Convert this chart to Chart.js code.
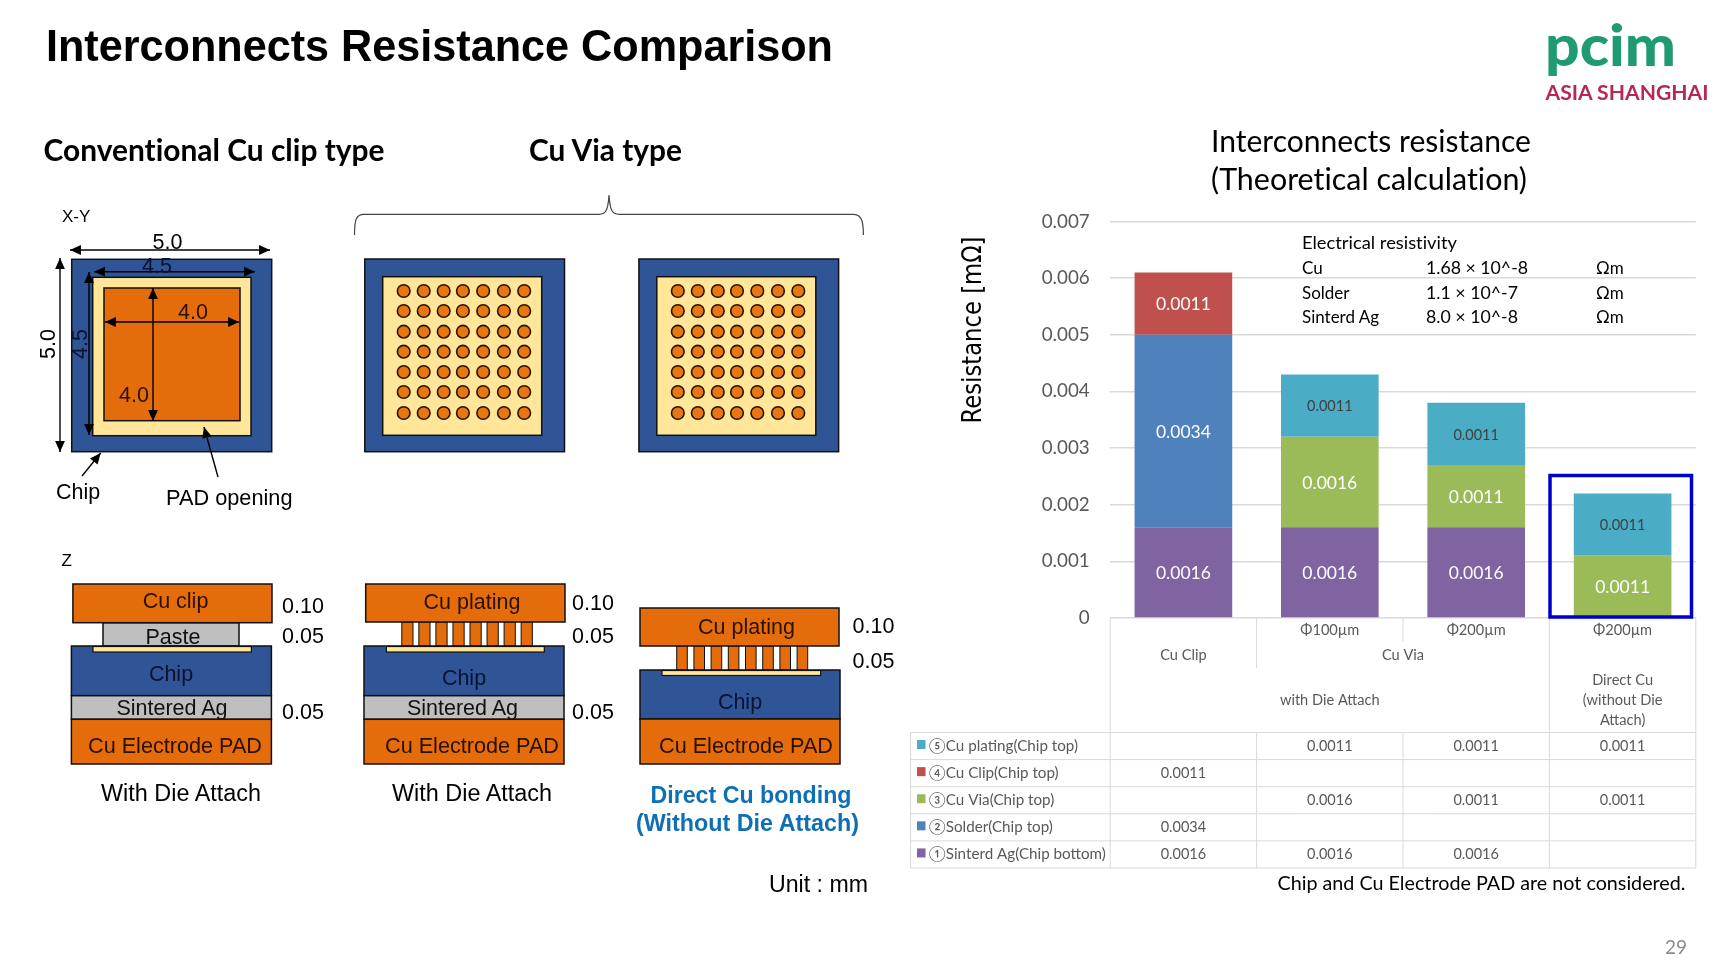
<!DOCTYPE html>
<html>
<head>
<meta charset="utf-8">
<title>Interconnects Resistance Comparison</title>
<script src="https://cdn.jsdelivr.net/npm/chart.js@4/dist/chart.umd.min.js"></script>
<style>
    html, body { margin: 0; padding: 0; background: #fff; overflow: hidden; }
    #slide { position: relative; width: 1728px; height: 972px; }
    #resChart, #art { position: absolute; left: 0; top: 0; }
    #art text { font-variant-ligatures: none; }
</style>
</head>
<body>
<div id="slide">
    <canvas id="resChart" width="1728" height="972"></canvas>
    <svg id="art" width="1728" height="972" xmlns="http://www.w3.org/2000/svg"></svg>
</div>
<script>
var categories  = ['Cu Clip', 'Φ100µm', 'Φ200µm', 'Φ200µm'];
var sinterAg    = [0.0016, 0.0016, 0.0016, null];
var solder      = [0.0034, null, null, null];
var cuVia       = [null, 0.0016, 0.0011, 0.0011];
var cuClip      = [0.0011, null, null, null];
var cuPlating   = [null, 0.0011, 0.0011, 0.0011];
var yTicksMax   = 0.007;
var yTickStep   = 0.001;

var PURPLE = '#8064A2', BLUE = '#4F81BD', GREEN = '#9BBB59', RED = '#C0504D', CYAN = '#4BACC6';
var TABLE_GREY = '#595959', LINE_GREY = '#d9d9d9';
var BODY_FONT = 'Lato, "Noto Sans CJK JP", sans-serif';

// drawn bottom-up in the stack, the table lists them top-down
var seriesList = [
    { label: '①Sinterd Ag(Chip bottom)', data: sinterAg,  color: PURPLE },
    { label: '②Solder(Chip top)',        data: solder,    color: BLUE },
    { label: '③Cu Via(Chip top)',        data: cuVia,     color: GREEN },
    { label: '④Cu Clip(Chip top)',       data: cuClip,    color: RED },
    { label: '⑤Cu plating(Chip top)',    data: cuPlating, color: CYAN, smallLabel: true }
];

var barLabelPlugin = {
    id: 'barLabels',
    afterDatasetsDraw: function (chart) {
        var ctx = chart.ctx;
        ctx.save();
        ctx.textAlign = 'center';
        ctx.textBaseline = 'middle';
        chart.data.datasets.forEach(function (ds, i) {
            chart.getDatasetMeta(i).data.forEach(function (bar, j) {
                if (ds.data[j] === null) return;
                var small = seriesList[i].smallLabel;
                ctx.font = (small ? '14.5px ' : '17.5px ') + BODY_FONT;
                ctx.fillStyle = small ? '#404040' : '#ffffff';
                ctx.fillText(ds.data[j].toFixed(4), bar.x, (bar.y + bar.base) / 2 + 1);
            });
        });
        ctx.restore();
    }
};

// data table under the plot, columns follow the x scale
var dataTablePlugin = {
    id: 'dataTable',
    afterDraw: function (chart) {
        var ctx = chart.ctx, xs = chart.scales.x, area = chart.chartArea;
        var colW = (area.right - area.left) / categories.length;
        var edge = function (i) { return area.left + colW * i; };
        var top = area.bottom, legendLeft = 910.6;
        var rowsTop = top + 114.5, rowH = 27.1;
        var rowsBottom = rowsTop + rowH * seriesList.length;

        ctx.save();
        ctx.strokeStyle = LINE_GREY;
        ctx.lineWidth = 1;
        var line = function (x1, y1, x2, y2) {
            ctx.beginPath(); ctx.moveTo(x1, y1); ctx.lineTo(x2, y2); ctx.stroke();
        };
        line(edge(0), top, edge(0), rowsBottom);
        line(edge(1), top, edge(1), top + 50);
        line(edge(2), top, edge(2), top + 24);
        line(edge(3), top, edge(3), rowsBottom);
        line(edge(4), top, edge(4), rowsBottom);
        line(edge(1), rowsTop, edge(1), rowsBottom);
        line(edge(2), rowsTop, edge(2), rowsBottom);
        line(legendLeft, rowsTop, legendLeft, rowsBottom);
        for (var r = 0; r <= seriesList.length; r++) {
            line(legendLeft, rowsTop + rowH * r, edge(4), rowsTop + rowH * r);
        }

        ctx.fillStyle = TABLE_GREY;
        ctx.font = '14.6px ' + BODY_FONT;
        ctx.textAlign = 'center';
        ctx.textBaseline = 'middle';
        [1, 2, 3].forEach(function (i) {
            ctx.fillText(categories[i], xs.getPixelForValue(i), top + 12);
        });
        ctx.fillText(categories[0], xs.getPixelForValue(0), top + 37);
        ctx.fillText('Cu Via', edge(2), top + 37);
        ctx.fillText('with Die Attach', xs.getPixelForValue(1), top + 82);
        ctx.fillText('Direct Cu', xs.getPixelForValue(3), top + 62);
        ctx.fillText('(without Die', xs.getPixelForValue(3), top + 82);
        ctx.fillText('Attach)', xs.getPixelForValue(3), top + 102);

        seriesList.slice().reverse().forEach(function (s, r) {
            var cy = rowsTop + rowH * (r + 0.5);
            ctx.fillStyle = s.color;
            ctx.fillRect(917, cy - 6, 8.5, 9);
            ctx.fillStyle = TABLE_GREY;
            ctx.font = '15.2px ' + BODY_FONT;
            ctx.textAlign = 'left';
            ctx.fillText(s.label, 929, cy, 177);
            ctx.textAlign = 'center';
            ctx.font = '14.5px ' + BODY_FONT;
            s.data.forEach(function (v, j) {
                if (v !== null) ctx.fillText(v.toFixed(4), xs.getPixelForValue(j), cy);
            });
        });
        ctx.restore();
    }
};

new Chart(document.getElementById('resChart'), {
    type: 'bar',
    data: {
        labels: categories,
        datasets: seriesList.map(function (s) {
            return {
                label:              s.label,
                data:               s.data,
                backgroundColor:    s.color,
                borderWidth:        0,
                categoryPercentage: 0.667,
                barPercentage:      1
            };
        })
    },
    options: {
        responsive: false,
        animation:  false,
        layout: { padding: { left: 999.2, right: 32.2, top: 221.5, bottom: 354 } },
        plugins: {
            legend:  { display: false },
            tooltip: { enabled: false }
        },
        scales: {
            x: { stacked: true, display: false },
            y: {
                stacked: true,
                min: 0,
                max: yTicksMax,
                afterFit: function (scale) { scale.width = 111; },
                border: { display: false },
                grid: { color: LINE_GREY, lineWidth: 1.5, drawTicks: false },
                ticks: {
                    stepSize: yTickStep,
                    padding: 20.5,
                    color: TABLE_GREY,
                    font: { family: 'Lato', size: 18.8 },
                    callback: function (v) { return v === 0 ? '0' : v.toFixed(3); }
                }
            }
        }
    },
    plugins: [barLabelPlugin, dataTablePlugin]
});

// ---- slide artwork around the chart
var CHIP_BLUE = '#2F5597', ORANGE = '#E46C0A', PAD_YELLOW = '#FFE699', AG_GREY = '#BFBFBF', EDGE = '#111111';
var ARIAL = '"Liberation Sans", Arial, sans-serif';
var art = document.getElementById('art');

function el(name, attrs, content) {
    var n = document.createElementNS('http://www.w3.org/2000/svg', name);
    for (var k in attrs) n.setAttribute(k, attrs[k]);
    if (content !== undefined) n.textContent = content;
    art.appendChild(n);
    return n;
}
function box(x1, y1, x2, y2, fill, sw) {
    el('rect', { x: x1, y: y1, width: x2 - x1, height: y2 - y1, fill: fill, stroke: EDGE, 'stroke-width': sw || 1.5 });
}
function label(str, x, y, size, o) {
    o = o || {};
    var a = {
        x: x, y: y,
        'font-size': size,
        'font-family': o.family || ARIAL,
        'font-weight': o.weight || 'normal',
        'text-anchor': o.anchor || 'start',
        fill: o.fill || '#000'
    };
    if (o.len) { a.textLength = o.len; a.lengthAdjust = 'spacingAndGlyphs'; }
    if (o.rotate) a.transform = 'rotate(' + o.rotate + ' ' + x + ' ' + y + ')';
    el('text', a, str);
}
function head(x, y, ang, s) {
    var p = [[x, y],
        [x - s * Math.cos(ang - 0.42), y - s * Math.sin(ang - 0.42)],
        [x - s * Math.cos(ang + 0.42), y - s * Math.sin(ang + 0.42)]];
    el('polygon', { points: p.map(function (q) { return q.join(','); }).join(' '), fill: '#000' });
}
function arrow(x1, y1, x2, y2, both) {
    el('line', { x1: x1, y1: y1, x2: x2, y2: y2, stroke: '#000', 'stroke-width': 1.4 });
    var ang = Math.atan2(y2 - y1, x2 - x1);
    head(x2, y2, ang, 12);
    if (both) head(x1, y1, ang + Math.PI, 12);
}

// titles
label('Interconnects Resistance Comparison', 46, 61, 44, { weight: 'bold', len: 787 });
label('Conventional Cu clip type', 43.5, 160.5, 30, { weight: 'bold', family: 'Lato', len: 341 });
label('Cu Via type', 529, 160.5, 30, { weight: 'bold', family: 'Lato', len: 153 });
label('Interconnects resistance', 1211, 152, 30, { family: 'Lato', len: 320 });
label('(Theoretical calculation)', 1211, 190, 30, { family: 'Lato', len: 316 });
label('Resistance [mΩ]', 980.5, 330, 26, { family: '"DejaVu Sans"', anchor: 'middle', rotate: -90, len: 187 });

// logo
label('pcim', 1545, 65.5, 58, { weight: '900', family: 'Lato', fill: '#1F9A73', len: 131 });
label('ASIA SHANGHAI', 1545.5, 99.5, 20, { weight: 'bold', family: 'Lato', fill: '#B52A55', len: 163 });

// resistivity inset
var inset = [['Cu', '1.68 × 10^-8'], ['Solder', '1.1 × 10^-7'], ['Sinterd Ag', '8.0 × 10^-8']];
label('Electrical resistivity', 1302, 249, 17, { family: 'Lato', len: 155 });
inset.forEach(function (row, i) {
    var y = 274 + i * 24.5;
    label(row[0], 1302, y, 17, { family: 'Lato' });
    label(row[1], 1426, y, 17, { family: 'Lato', len: i === 0 ? 102 : 92 });
    label('Ωm', 1596, y, 17, { family: 'Lato' });
});

el('rect', { x: 1550, y: 475.5, width: 141.5, height: 141.5, fill: 'none', stroke: '#0000CC', 'stroke-width': 3.5 });
label('Chip and Cu Electrode PAD are not considered.', 1277.5, 890, 20, { family: 'Lato', len: 408 });
label('29', 1665, 954, 19, { family: 'Lato', fill: '#8b8b8b', len: 22 });

// X-Y view, clip type
label('X-Y', 62, 222, 17);
box(71.7, 259.3, 271.7, 451.7, CHIP_BLUE);
box(92.7, 277.3, 251, 435.7, PAD_YELLOW);
box(104, 288, 240, 420.7, ORANGE);
arrow(70, 250, 270, 250, true);
arrow(94, 271.7, 255, 271.7, true);
arrow(60, 258, 60, 452, true);
arrow(89, 272, 89, 435, true);
arrow(105, 322, 239, 322, true);
arrow(153, 288, 153, 421, true);
arrow(82, 476, 100.7, 453);
arrow(218, 477, 204, 427);
label('5.0', 167.5, 249, 21.5, { anchor: 'middle' });
label('4.5', 157, 273, 21.5, { anchor: 'middle', fill: '#0a1230' });
label('5.0', 54.5, 344, 21.5, { anchor: 'middle', rotate: -90 });
label('4.5', 87, 344, 21.5, { anchor: 'middle', rotate: -90, fill: '#0a1230' });
label('4.0', 193, 319, 21.5, { anchor: 'middle', fill: '#2a1000' });
label('4.0', 134, 402, 21.5, { anchor: 'middle', fill: '#2a1000' });
label('Chip', 56, 499, 21.5);
label('PAD opening', 166, 505, 21.5, { len: 126.5 });

// via plan views
el('path', {
    d: 'M354.5 235 C354.5 220 356 214.3 364 214.3 L599 214.3 C605 214.3 608 212 609 195 C610 212 613 214.3 619 214.3 L853 214.3 C861 214.3 863.4 220 863.4 235',
    fill: 'none', stroke: '#444', 'stroke-width': 1.2
});
var viaRows = [291, 311, 331.7, 351.7, 372, 392, 413];
var viaColOffsets = [0, 20, 40, 59.2, 79.5, 100.2, 120.5];
[[364.8, 382.7, 403.7], [638.9, 656.8, 677.8]].forEach(function (v) {
    box(v[0], 259, v[0] + 199.7, 451.7, CHIP_BLUE);
    box(v[1], 276.7, v[1] + 159, 435.3, PAD_YELLOW);
    viaRows.forEach(function (y) {
        viaColOffsets.forEach(function (off) {
            el('circle', { cx: v[2] + off, cy: y, r: 6.3, fill: '#E8770F', stroke: '#2a1200', 'stroke-width': 1.6 });
        });
    });
});

// Z cross sections
label('Z', 61.5, 566, 17);
function pillars(x0, pitch, w, y1, y2) {
    for (var i = 0; i < 8; i++) box(x0 + i * pitch, y1, x0 + i * pitch + w, y2, ORANGE, 1);
}
function dims(x, ys) {
    ['0.10', '0.05', '0.05'].slice(0, ys.length).forEach(function (s, i) { label(s, x, ys[i], 21.5); });
}

box(103, 622.7, 239, 646, AG_GREY);
box(72.9, 584, 272, 622.7, ORANGE);
box(71.4, 646, 271.4, 695.7, CHIP_BLUE);
box(93, 646.5, 251.4, 652, PAD_YELLOW, 1.2);
box(71.4, 695.7, 271.4, 719.3, AG_GREY);
box(71.4, 719.3, 271.4, 764, ORANGE);
label('Cu clip', 175.5, 608, 21.5, { anchor: 'middle', fill: '#2a1000' });
label('Paste', 173, 644, 21.5, { anchor: 'middle', fill: '#111' });
label('Chip', 171, 681, 21.5, { anchor: 'middle', fill: '#0a1230' });
label('Sintered Ag', 172, 715, 21.5, { anchor: 'middle', fill: '#111' });
label('Cu Electrode PAD', 175, 752.5, 21.5, { anchor: 'middle', fill: '#2a1000', len: 174 });
dims(282, [612.5, 642.5, 718.5]);
label('With Die Attach', 181, 800.5, 23, { anchor: 'middle', len: 160 });

pillars(401.8, 17.05, 11.2, 622, 646);
box(365.7, 584, 565, 622, ORANGE);
box(364, 646, 564, 695.7, CHIP_BLUE);
box(386.4, 646.5, 544.3, 652, PAD_YELLOW, 1.2);
box(364, 695.7, 564, 719.3, AG_GREY);
box(364, 719.3, 564, 764, ORANGE);
label('Cu plating', 472, 609, 21.5, { anchor: 'middle', fill: '#2a1000' });
label('Chip', 464, 685, 21.5, { anchor: 'middle', fill: '#0a1230' });
label('Sintered Ag', 462.5, 715, 21.5, { anchor: 'middle', fill: '#111' });
label('Cu Electrode PAD', 472, 752.5, 21.5, { anchor: 'middle', fill: '#2a1000', len: 174 });
dims(572, [609.5, 642.5, 718.5]);
label('With Die Attach', 472, 800.5, 23, { anchor: 'middle', len: 160 });

pillars(676.7, 17.2, 10.6, 646, 670);
box(640, 608, 839, 646, ORANGE);
box(640, 670, 840, 719, CHIP_BLUE);
box(662, 670.5, 820.7, 675.5, PAD_YELLOW, 1.2);
box(640, 719, 840, 764, ORANGE);
label('Cu plating', 746.5, 634, 21.5, { anchor: 'middle', fill: '#2a1000' });
label('Chip', 740, 709, 21.5, { anchor: 'middle', fill: '#0a1230' });
label('Cu Electrode PAD', 746, 752.5, 21.5, { anchor: 'middle', fill: '#2a1000', len: 174 });
dims(852.5, [633, 668]);
label('Direct Cu bonding', 751, 802.5, 23.3, { anchor: 'middle', weight: 'bold', fill: '#0F6FB5', len: 201 });
label('(Without Die Attach)', 747.5, 830.5, 23.3, { anchor: 'middle', weight: 'bold', fill: '#0F6FB5', len: 223 });
label('Unit : mm', 769, 891.5, 23, { len: 99 });
</script>
</body>
</html>
